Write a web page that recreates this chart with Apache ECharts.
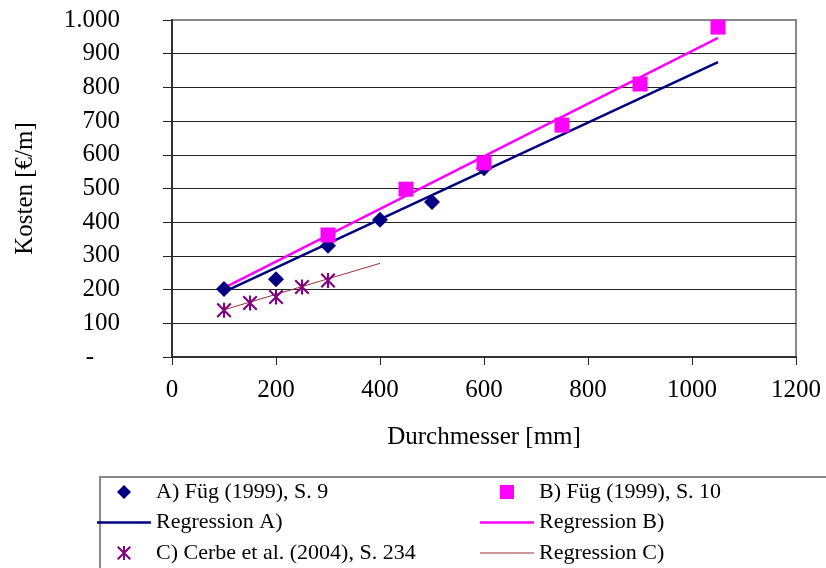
<!DOCTYPE html>
<html>
<head>
<meta charset="utf-8">
<script src="https://cdn.jsdelivr.net/npm/echarts@6/dist/echarts.min.js"></script>
<style>html,body{margin:0;padding:0;background:#fff}#c{width:826px;height:568px}</style>
</head>
<body>
<div id="c"></div>
<script>
// Data
const seriesA = [[100,202],[200,231],[300,330],[400,407],[500,460],[600,560]];
const seriesB = [[300,362],[450,498],[600,576],[750,688],[900,810],[1050,979]];
const seriesC = [[100,139],[150,160],[200,178],[250,208],[300,227]];
const regressionA = [[100,193],[1050,875]];
const regressionB = [[100,205],[1050,947]];
const regressionC = [[100,140],[400,278]];
const yTickLabels = ['-','100','200','300','400','500','600','700','800','900','1.000'];
const xTickLabels = ['0','200','400','600','800','1000','1200'];
const names = ['A) Füg (1999), S. 9','B) Füg (1999), S. 10','Regression A)','Regression B)','C) Cerbe et al. (2004), S. 234','Regression C)'];

const FONT = 'Liberation Serif';
const C_A = '#000080', C_B = '#ff00ff', C_C = '#800080', C_RC = '#993333';
const asterisk = 'path://M43 0L57 0L57 100L43 100Z M0 10L10 0L100 90L90 100Z M90 0L100 10L10 100L0 90Z';
const diamondIcon = 'path://M7 0L14 7L7 14L0 7Z';
const squareIcon = 'path://M0 0L13 0L13 13L0 13Z';
const thickLine = 'path://M0 0L540 0L540 25L0 25Z';
const thinLine = 'path://M0 0L540 0L540 12L0 12Z';

const chart = echarts.init(document.getElementById('c'), null, {renderer:'canvas'});
const gridColors = ['#222','#222','#222','#222','#222','#222','#222','#222','#222','#222','#888'];
const legendText = {fontFamily:FONT,fontSize:22,color:'#000',lineHeight:22};
chart.setOption({
  animation:false,
  backgroundColor:'#fff',
  grid:{left:172,right:30,top:20,bottom:211,show:true,borderColor:'#888',borderWidth:2,backgroundColor:'transparent'},
  xAxis:{type:'value',min:0,max:1200,interval:200,
    name:'Durchmesser [mm]',nameLocation:'middle',nameGap:68,
    nameTextStyle:{fontFamily:FONT,fontSize:25,color:'#000'},
    axisLine:{show:true,lineStyle:{color:'#333',width:2}},
    axisTick:{show:true,inside:false,length:8,lineStyle:{color:'#222'}},
    axisLabel:{fontFamily:FONT,fontSize:25,color:'#000',margin:21,
      formatter:function(v){return xTickLabels[Math.round(v/200)];}},
    splitLine:{show:false}},
  yAxis:{type:'value',min:0,max:1000,interval:100,
    name:'Kosten [€/m]',nameLocation:'middle',nameGap:134,
    nameTextStyle:{fontFamily:FONT,fontSize:25,color:'#000'},
    axisLine:{show:true,lineStyle:{color:'#333',width:2}},
    axisTick:{show:true,inside:false,length:9,lineStyle:{color:'#222'}},
    axisLabel:{fontFamily:FONT,fontSize:25,color:'#000',margin:52,
      formatter:function(v){const s=yTickLabels[Math.round(v/100)];return v===0?'{d|'+s+'}':s;},
      rich:{d:{fontFamily:FONT,fontSize:25,color:'#000',padding:[0,26,0,0]}}},
    splitLine:{show:true,lineStyle:{color:gridColors,width:1}}},
  legend:[
    {orient:'vertical',left:97,top:481,height:95,padding:0,itemWidth:54,itemHeight:14,itemGap:8.5,
     symbolKeepAspect:true,textStyle:legendText,
     data:[{name:names[0],icon:diamondIcon},{name:names[2],icon:thickLine},{name:names[4],icon:asterisk}]},
    {orient:'vertical',left:480,top:481,height:95,padding:0,itemWidth:54,itemHeight:14,itemGap:8.5,
     symbolKeepAspect:true,textStyle:legendText,
     data:[{name:names[1],icon:squareIcon},{name:names[3],icon:thickLine},{name:names[5],icon:thinLine}]}
  ],
  graphic:[{type:'rect',shape:{x:100,y:477,width:800,height:140},style:{fill:'none',stroke:'#888',lineWidth:2},z:-1}],
  series:[
    {name:names[0],type:'scatter',data:seriesA,symbol:'diamond',symbolSize:16,itemStyle:{color:C_A,opacity:1},z:5},
    {name:names[1],type:'scatter',data:seriesB,symbol:'rect',symbolSize:15,itemStyle:{color:C_B,opacity:1},z:6},
    {name:names[2],type:'line',data:regressionA,showSymbol:false,symbol:'none',lineStyle:{color:C_A,width:2.5},itemStyle:{color:C_A},z:3},
    {name:names[3],type:'line',data:regressionB,showSymbol:false,symbol:'none',lineStyle:{color:C_B,width:2.5},itemStyle:{color:C_B},z:3},
    {name:names[4],type:'scatter',data:seriesC,symbol:asterisk,symbolSize:15,itemStyle:{color:C_C,opacity:1},z:5},
    {name:names[5],type:'line',data:regressionC,showSymbol:false,symbol:'none',lineStyle:{color:C_RC,width:1},itemStyle:{color:C_RC},z:3}
  ]
});
</script>
</body>
</html>
